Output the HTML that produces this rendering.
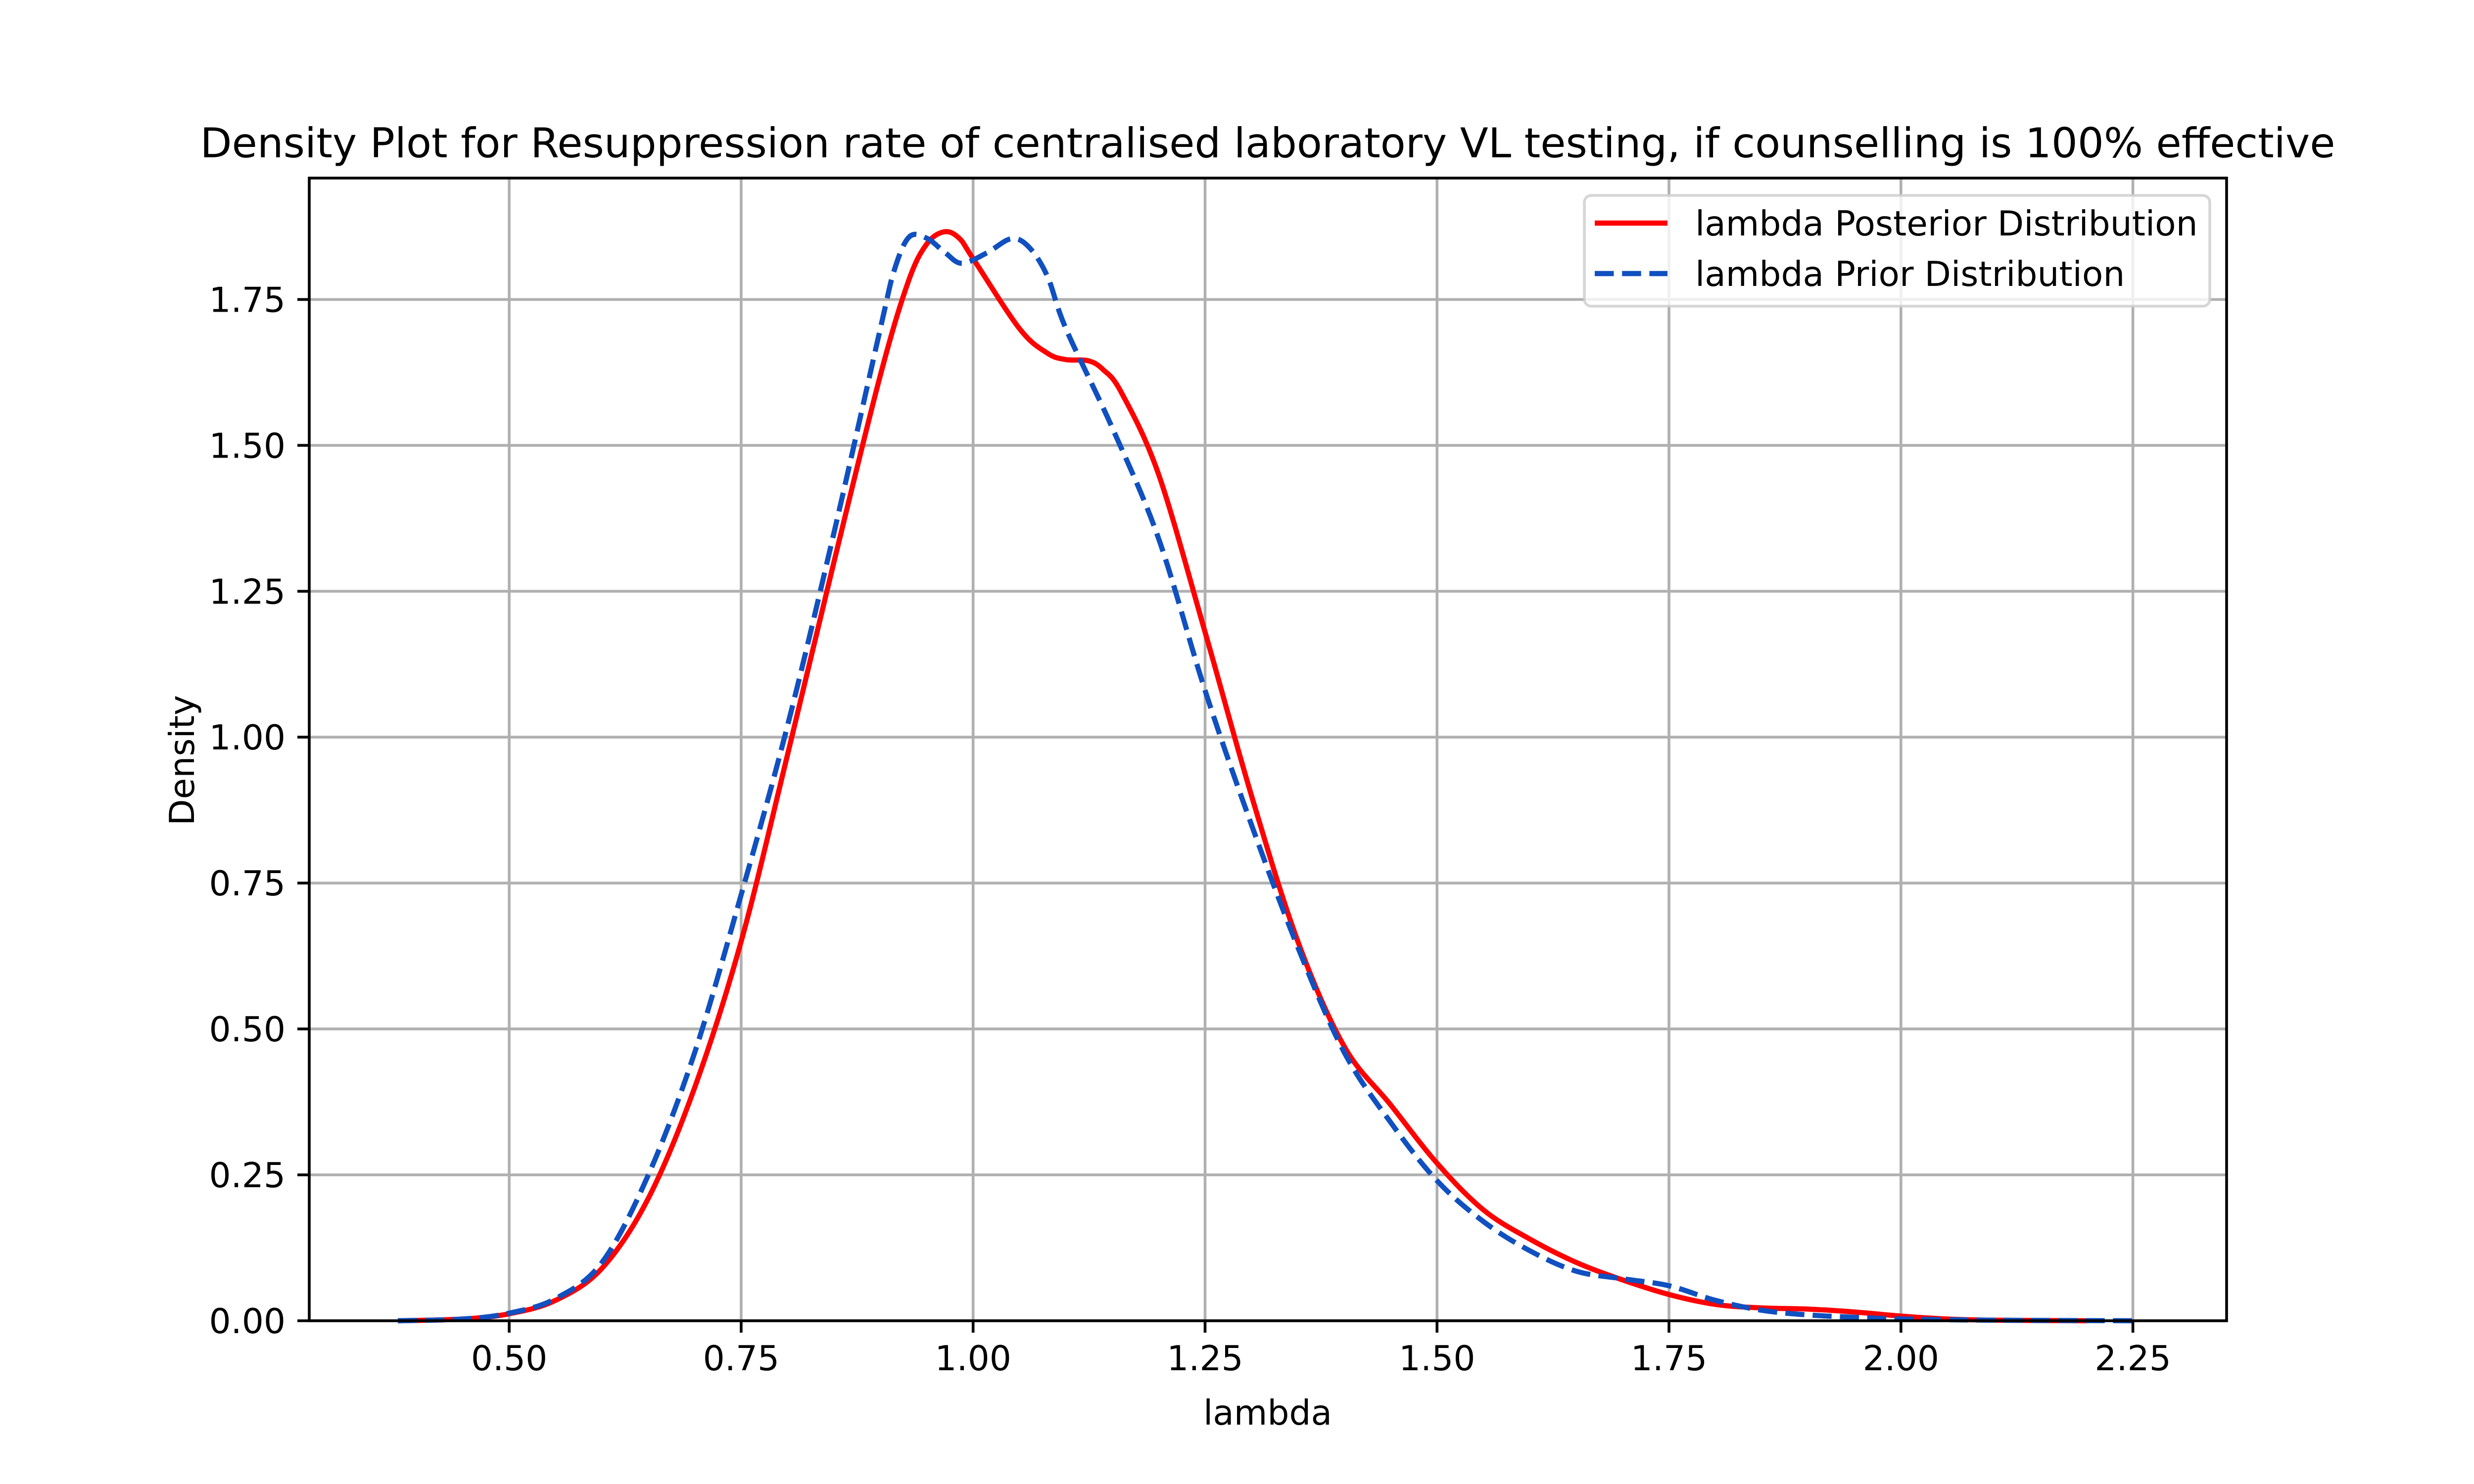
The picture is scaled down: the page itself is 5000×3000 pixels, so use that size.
<!DOCTYPE html>
<html><head><meta charset="utf-8"><style>html,body{margin:0;padding:0;background:#fff}svg{display:block}text{font-family:"DejaVu Sans","Liberation Sans",sans-serif;fill:#000}</style></head>
<body>
<svg id="chart" width="5000" height="3000" viewBox="0 0 5000 3000" xmlns="http://www.w3.org/2000/svg">
<rect x="0" y="0" width="5000" height="3000" fill="#fff"/>
<g id="grid"></g>
<g id="series"></g>
<rect x="625" y="360" width="3875" height="2310" fill="none" stroke="#000" stroke-width="5.6"/>
<g id="ticks"></g>
<text x="2562" y="318" font-size="83.3" text-anchor="middle">Density Plot for Resuppression rate of centralised laboratory VL testing, if counselling is 100% effective</text>
<text x="2562" y="2880" font-size="69.4" text-anchor="middle">lambda</text>
<text x="0" y="0" font-size="69.4" text-anchor="middle" transform="translate(392,1537) rotate(-90)">Density</text>
<g>
<rect x="3202" y="395" width="1264" height="224" rx="14" fill="#fff" fill-opacity="0.8" stroke="#cccccc" stroke-opacity="0.8" stroke-width="5.6"/>
<line x1="3223" y1="451" x2="3370" y2="451" stroke="#ff0000" stroke-width="10.4"/>
<text x="3426" y="476" font-size="69.4">lambda Posterior Distribution</text>
<line x1="3223" y1="553" x2="3370" y2="553" stroke="#1050c0" stroke-width="10.4" stroke-dasharray="38.5 16.7"/>
<text x="3426" y="578" font-size="69.4">lambda Prior Distribution</text>
</g>
</svg>
<script>
const xTicks = [0.50, 0.75, 1.00, 1.25, 1.50, 1.75, 2.00, 2.25];
const yTicks = [0.00, 0.25, 0.50, 0.75, 1.00, 1.25, 1.50, 1.75];
const postX = [0.38,0.45,0.50,0.55,0.60,0.65,0.70,0.75,0.80,0.85,0.90,0.93,0.95,0.969,0.985,1.00,1.05,1.08,1.10,1.124,1.14,1.16,1.20,1.25,1.30,1.35,1.40,1.45,1.50,1.55,1.60,1.65,1.70,1.75,1.80,1.85,1.90,1.95,2.00,2.05,2.10,2.20];
const postY = [0,0.003,0.012,0.035,0.09,0.21,0.40,0.65,0.97,1.30,1.62,1.78,1.845,1.866,1.855,1.82,1.70,1.658,1.647,1.645,1.63,1.59,1.45,1.18,0.90,0.65,0.47,0.37,0.27,0.19,0.14,0.10,0.07,0.045,0.028,0.022,0.02,0.015,0.008,0.003,0.001,0];
const priorX = [0.38,0.45,0.50,0.55,0.60,0.65,0.70,0.75,0.80,0.85,0.90,0.915,0.931,0.95,0.97,0.988,1.015,1.041,1.06,1.08,1.10,1.15,1.20,1.25,1.30,1.35,1.40,1.45,1.50,1.55,1.60,1.65,1.70,1.75,1.80,1.85,1.90,1.95,2.00,2.10,2.25];
const priorY = [0,0.003,0.013,0.038,0.10,0.25,0.46,0.73,1.02,1.35,1.70,1.80,1.857,1.855,1.83,1.812,1.83,1.854,1.84,1.79,1.70,1.53,1.34,1.08,0.85,0.64,0.46,0.34,0.24,0.17,0.12,0.085,0.072,0.06,0.035,0.018,0.01,0.006,0.003,0.001,0];

const NS = 'http://www.w3.org/2000/svg';
const L=625,R=4500,T=360,B=2670;
const xMin=0.2845,xMax=2.351,yMin=0,yMax=1.958;
function sx(v){return L+(v-xMin)/(xMax-xMin)*(R-L);}
function sy(v){return B-(v-yMin)/(yMax-yMin)*(B-T);}
const grid=document.getElementById('grid'),ticks=document.getElementById('ticks'),series=document.getElementById('series');
function mk(tag,attrs,parent){const e=document.createElementNS(NS,tag);for(const k in attrs)e.setAttribute(k,attrs[k]);parent.appendChild(e);return e;}
xTicks.forEach(v=>{
  const x=sx(v);
  const g=mk('line',{x1:x,x2:x,y1:T,y2:B,stroke:'#b0b0b0','stroke-width':5.6},grid);
  
  
  const t=mk('line',{x1:x,x2:x,y1:B,y2:B+24,stroke:'#000','stroke-width':5.6},ticks);
  
  
  const lb=mk('text',{x:x,y:B+100,'font-size':69.4,'text-anchor':'middle'},ticks);
  lb.textContent=v.toFixed(2);
  
  
});
yTicks.forEach(v=>{
  const y=sy(v);
  const g=mk('line',{x1:L,x2:R,y1:y,y2:y,stroke:'#b0b0b0','stroke-width':5.6},grid);
  
  
  const t=mk('line',{x1:L-24,x2:L,y1:y,y2:y,stroke:'#000','stroke-width':5.6},ticks);
  
  
  const lb=mk('text',{x:L-48,y:y+25,'font-size':69.4,'text-anchor':'end'},ticks);
  lb.textContent=v.toFixed(2);
  
  
});
function path(xs,ys){
  const p=xs.map((v,i)=>[sx(v),sy(ys[i])]);
  let d='M'+p[0][0]+','+p[0][1];
  for(let i=0;i<p.length-1;i++){
    const p0=p[Math.max(0,i-1)],p1=p[i],p2=p[i+1],p3=p[Math.min(p.length-1,i+2)];
    const c1=[p1[0]+(p2[0]-p0[0])/6,p1[1]+(p2[1]-p0[1])/6];
    const c2=[p2[0]-(p3[0]-p1[0])/6,p2[1]-(p3[1]-p1[1])/6];
    d+=' C'+c1+' '+c2+' '+p2;
  }
  return d;
}
const pp=mk('path',{d:path(postX,postY),fill:'none',stroke:'#ff0000','stroke-width':10.4,'stroke-linejoin':'round'},series);


const pr=mk('path',{d:path(priorX,priorY),fill:'none',stroke:'#1050c0','stroke-width':10.4,'stroke-dasharray':'38.5 16.7'},series);


</script>
</body></html>
